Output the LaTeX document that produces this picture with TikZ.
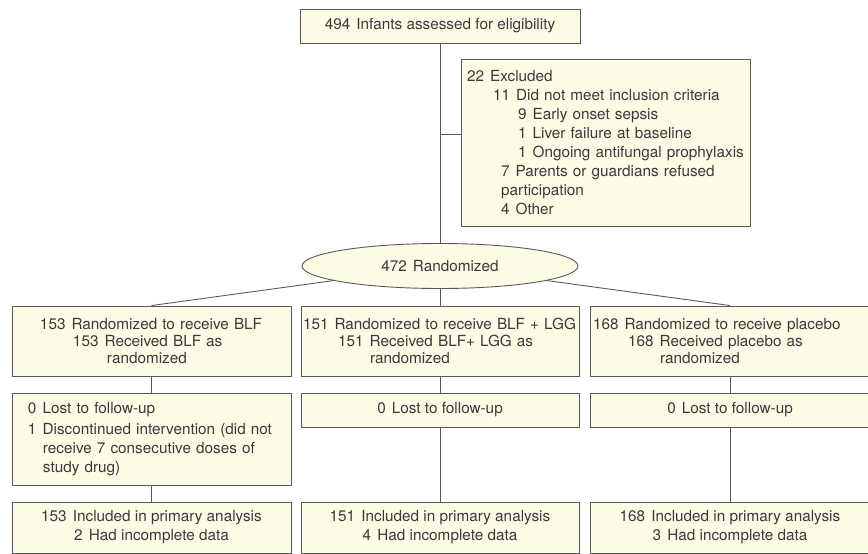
\documentclass[tikz,border=0pt]{standalone}
\usepackage{fontspec}
\setmainfont{TeX Gyre Heros}
\usetikzlibrary{shapes.geometric}
\definecolor{boxfill}{HTML}{FDFAE6}
\definecolor{boxline}{HTML}{5A5A5A}
\definecolor{txt}{HTML}{3A3A3A}
\newcommand\nm[2]{#1\hspace{0.4em}#2}
\newcommand\lineat[2]{\hspace*{#1pt}\mbox{#2}}
\begin{document}
\begin{tikzpicture}[x=1pt,y=-1pt,
  box/.style={draw=boxline, fill=boxfill, line width=0.9pt, rectangle, inner sep=0pt, text=txt, font=\fontsize{15.3}{19}\selectfont},
  armbox/.style={box, minimum height=70, align=left, font=\fontsize{15.3}{17}\selectfont},
  conn/.style={draw=boxline, line width=0.9pt}]
\useasboundingbox (0,0) rectangle (868,554);

\node[box, minimum width=280, minimum height=34] (top) at (440,26) {\nm{494}{Infants assessed for eligibility}};

\node[box, minimum width=289, minimum height=167, text width=289, align=left] (excl) at (605.5,142.5) {%
\lineat{6}{\nm{22}{Excluded}}\\
\lineat{32}{\nm{11}{Did not meet inclusion criteria}}\\
\lineat{57}{\nm{9}{Early onset sepsis}}\\
\lineat{57}{\nm{1}{Liver failure at baseline}}\\
\lineat{57}{\nm{1}{Ongoing antifungal prophylaxis}}\\
\lineat{40}{\nm{7}{Parents or guardians refused}}\\
\lineat{40}{participation}\\
\lineat{40}{\nm{4}{Other}}};

\node[box, ellipse, minimum width=276, minimum height=45] (rand) at (440,266) {\nm{472}{Randomized}};

\node[armbox, minimum width=279, text width=279] (arm1) at (151.5,341) {%
\lineat{28}{\nm{153}{Randomized to receive BLF}}\\
\lineat{61}{\nm{153}{Received BLF as}}\\
\lineat{95}{randomized}};
\node[armbox, minimum width=278, text width=278] (arm2) at (440,341) {%
\lineat{2}{\nm{151}{Randomized to receive BLF + LGG}}\\
\lineat{37}{\nm{151}{Received BLF+ LGG as}}\\
\lineat{69}{randomized}};
\node[armbox, minimum width=280, text width=280] (arm3) at (730,341) {%
\lineat{3}{\nm{168}{Randomized to receive placebo}}\\
\lineat{38}{\nm{168}{Received placebo as}}\\
\lineat{70}{randomized}};

\node[box, minimum width=279, minimum height=92, text width=279, align=left] (lostA) at (151.5,439) {%
\lineat{16}{\nm{0}{Lost to follow-up}}\\[1.5pt]
\lineat{16}{\nm{1}{Discontinued intervention (did not}}\\
\lineat{31}{receive 7 consecutive doses of}\\
\lineat{31}{study drug)}};
\node[box, minimum width=278, minimum height=34] (lostB) at (440,410) {\nm{0}{Lost to follow-up}};
\node[box, minimum width=280, minimum height=34] (lostC) at (730,410) {\nm{0}{Lost to follow-up}};

\node[box, minimum width=279, minimum height=51, align=center] (finA) at (151.5,527.5) {\nm{153}{Included in primary analysis}\\\nm{2}{Had incomplete data}};
\node[box, minimum width=278, minimum height=51, align=center] (finB) at (440,527.5) {\nm{151}{Included in primary analysis}\\\nm{4}{Had incomplete data}};
\node[box, minimum width=280, minimum height=51, align=center] (finC) at (730,527.5) {\nm{168}{Included in primary analysis}\\\nm{3}{Had incomplete data}};

\coordinate (j1) at (440,134);
\draw[conn] (top) -- (rand);
\draw[conn] (j1) -- (j1 -| excl.west);
\draw[conn] (rand) -- (arm1.north);
\draw[conn] (rand) -- (arm2);
\draw[conn] (rand) -- (arm3.north);
\draw[conn] (arm1) -- (lostA);
\draw[conn] (arm2) -- (lostB);
\draw[conn] (arm3) -- (lostC);
\draw[conn] (lostA) -- (finA);
\draw[conn] (lostB) -- (finB);
\draw[conn] (lostC) -- (finC);
\end{tikzpicture}
\end{document}
